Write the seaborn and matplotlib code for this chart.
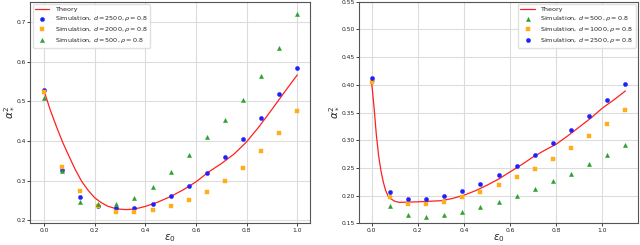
import numpy as np
import pandas as pd
import matplotlib
matplotlib.use("Agg")
import matplotlib.pyplot as plt
import seaborn as sns

# ---------------- Data: left panel ----------------
left_eps = [0.0, 0.0714, 0.1429, 0.2143, 0.2857, 0.3571, 0.4286, 0.5,
            0.5714, 0.6429, 0.7143, 0.7857, 0.8571, 0.9286, 1.0]
left_d2500 = [0.530, 0.327, 0.260, 0.235, 0.230, 0.230, 0.241, 0.261,
              0.287, 0.320, 0.360, 0.406, 0.459, 0.518, 0.585]
left_d2000 = [0.525, 0.335, 0.274, 0.237, 0.222, 0.221, 0.226, 0.235,
              0.250, 0.272, 0.300, 0.333, 0.375, 0.421, 0.477]
left_d500 = [0.510, 0.325, 0.245, 0.240, 0.242, 0.256, 0.284, 0.322,
             0.366, 0.410, 0.454, 0.503, 0.565, 0.636, 0.720]
left_theory_x = [0.0, 0.025, 0.05, 0.075, 0.1, 0.125, 0.15, 0.175, 0.2, 0.225,
                 0.25, 0.275, 0.3, 0.325, 0.35, 0.375, 0.4, 0.45, 0.5, 0.55,
                 0.6, 0.65, 0.7, 0.75, 0.8, 0.85, 0.9, 0.95, 1.0]
left_theory_y = [0.527, 0.478, 0.435, 0.395, 0.360, 0.326, 0.297, 0.275, 0.257, 0.245,
                 0.236, 0.231, 0.228, 0.227, 0.228, 0.231, 0.235, 0.246, 0.260, 0.277,
                 0.297, 0.322, 0.343, 0.367, 0.398, 0.437, 0.480, 0.524, 0.567]

# ---------------- Data: right panel ----------------
right_eps = [0.0, 0.0786, 0.1571, 0.2357, 0.3143, 0.3929, 0.4714, 0.55,
             0.6286, 0.7071, 0.7857, 0.8643, 0.9429, 1.0214, 1.1]
right_d500 = [0.410, 0.181, 0.165, 0.162, 0.165, 0.171, 0.179, 0.188,
              0.199, 0.212, 0.226, 0.240, 0.257, 0.274, 0.292]
right_d1000 = [0.406, 0.197, 0.185, 0.185, 0.189, 0.197, 0.207, 0.219,
               0.233, 0.249, 0.266, 0.286, 0.307, 0.330, 0.355]
right_d2500 = [0.412, 0.207, 0.194, 0.194, 0.200, 0.209, 0.222, 0.237,
               0.254, 0.274, 0.295, 0.319, 0.344, 0.372, 0.402]
right_theory_x = [0.0, 0.01, 0.02, 0.03, 0.04, 0.05, 0.06, 0.07, 0.08, 0.1, 0.12,
                  0.2, 0.3, 0.35, 0.4, 0.45, 0.5, 0.55, 0.6, 0.65, 0.7, 0.75,
                  0.8, 0.85, 0.9, 0.95, 1.0, 1.05, 1.1]
right_theory_y = [0.403, 0.360, 0.310, 0.272, 0.245, 0.225, 0.210, 0.200, 0.195, 0.190, 0.188,
                  0.189, 0.191, 0.195, 0.201, 0.209, 0.219, 0.230, 0.243, 0.256, 0.270, 0.282,
                  0.293, 0.308, 0.324, 0.340, 0.358, 0.373, 0.389]

left_labels = ["Theory",
               r"Simulation, $d = 2500, \rho = 0.8$",
               r"Simulation, $d = 2000, \rho = 0.8$",
               r"Simulation, $d = 500, \rho = 0.8$"]
right_labels = ["Theory",
                r"Simulation, $d = 500, \rho = 0.8$",
                r"Simulation, $d = 1000, \rho = 0.8$",
                r"Simulation, $d = 2500, \rho = 0.8$"]

sns.set_style("ticks")
plt.rcParams["font.family"] = ["DejaVu Sans"]

C_BLUE = "#1f1fff"
C_ORANGE = "#ffae1a"
C_GREEN = "#2ca02c"
C_RED = "#ff1f1f"

fig = plt.figure(figsize=(6.4, 2.45), dpi=100)
axL = fig.add_axes([0.047, 0.088, 0.438, 0.905])
axR = fig.add_axes([0.561, 0.088, 0.436, 0.905])


def style_axis(ax):
    ax.grid(True, color="#dcdcdc", linewidth=0.8)
    ax.set_axisbelow(True)
    for s in ax.spines.values():
        s.set_color("#555555")
        s.set_linewidth(0.8)
    ax.tick_params(labelsize=4.3, length=2, width=0.6, pad=1.2, colors="#222222")
    ax.set_xlabel(r"$\epsilon_0$", fontsize=7.5, labelpad=-0.5)
    ax.set_ylabel(r"$\alpha_*^2$", fontsize=7.5, labelpad=0)


LEG = dict(fontsize=4.6, frameon=True, framealpha=0.9, borderpad=0.4,
           labelspacing=0.3, handlelength=2.2, handletextpad=0.9,
           borderaxespad=0.4, edgecolor="#dddddd", markerscale=1.0)

# Left panel
sns.lineplot(x=left_theory_x, y=left_theory_y, ax=axL, color=C_RED, lw=0.9,
             label=left_labels[0])
sns.scatterplot(x=left_eps, y=left_d2500, ax=axL, color=C_BLUE, marker="o", s=9,
                edgecolor=C_BLUE, linewidth=0.3, label=left_labels[1], zorder=3)
sns.scatterplot(x=left_eps, y=left_d2000, ax=axL, color=C_ORANGE, marker="s", s=8,
                edgecolor=C_ORANGE, linewidth=0.3, label=left_labels[2], zorder=3)
sns.scatterplot(x=left_eps, y=left_d500, ax=axL, color=C_GREEN, marker="^", s=9,
                edgecolor=C_GREEN, linewidth=0.3, label=left_labels[3], zorder=3)
axL.set_xticks([0.0, 0.2, 0.4, 0.6, 0.8, 1.0])
axL.set_yticks([0.2, 0.3, 0.4, 0.5, 0.6, 0.7])
axL.set_xlim(-0.055, 1.052)
axL.set_ylim(0.192, 0.752)
style_axis(axL)
axL.legend(loc="upper left", **LEG)

# Right panel
sns.lineplot(x=right_theory_x, y=right_theory_y, ax=axR, color=C_RED, lw=0.9,
             label=right_labels[0])
sns.scatterplot(x=right_eps, y=right_d500, ax=axR, color=C_GREEN, marker="^", s=9,
                edgecolor=C_GREEN, linewidth=0.3, label=right_labels[1], zorder=3)
sns.scatterplot(x=right_eps, y=right_d1000, ax=axR, color=C_ORANGE, marker="s", s=8,
                edgecolor=C_ORANGE, linewidth=0.3, label=right_labels[2], zorder=3)
sns.scatterplot(x=right_eps, y=right_d2500, ax=axR, color=C_BLUE, marker="o", s=9,
                edgecolor=C_BLUE, linewidth=0.3, label=right_labels[3], zorder=3)
axR.set_xticks([0.0, 0.2, 0.4, 0.6, 0.8, 1.0])
axR.set_yticks([0.15, 0.20, 0.25, 0.30, 0.35, 0.40, 0.45, 0.50, 0.55])
axR.set_yticklabels(["0.15", "0.20", "0.25", "0.30", "0.35", "0.40", "0.45", "0.50", "0.55"])
axR.set_xlim(-0.055, 1.155)
axR.set_ylim(0.15, 0.55)
style_axis(axR)
axR.legend(loc="upper right", **LEG)

fig.savefig("out.png", dpi=100)
